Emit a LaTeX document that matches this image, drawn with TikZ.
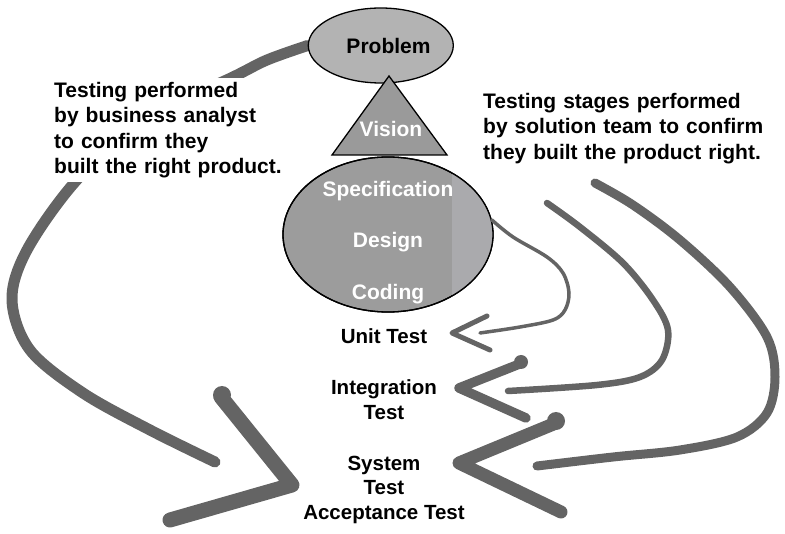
\documentclass[tikz,border=0pt]{standalone}
\usepackage{fontspec}
\setmainfont{Liberation Sans}
\usetikzlibrary{shapes.geometric}
\pgfdeclarelayer{ink}
\pgfsetlayers{ink,main}
\definecolor{markgray}{HTML}{646464}
\definecolor{problemfill}{HTML}{B3B3B3}
\definecolor{visionfill}{HTML}{9A9A9A}
\definecolor{corefill}{HTML}{9C9C9C}
\definecolor{coreshade}{HTML}{AAAAAD}

\begin{document}
\begin{tikzpicture}[x=1pt,y=-1pt,
  pen/.style={draw=markgray, line cap=round, line join=round},
  blob/.style={fill=markgray},
  bigtext/.style={font=\fontsize{21}{25.5}\selectfont\bfseries, inner sep=0pt},
  labeltext/.style={font=\fontsize{20.5}{24.5}\selectfont\bfseries, inner sep=0pt, align=center, anchor=north},
  intext/.style={bigtext, text=white, anchor=base},
  outline/.style={draw=black, line width=1.3pt}]
\useasboundingbox (0,0) rectangle (785,534);

% --- central stack: problem, vision, specification/design/coding
\node[ellipse, outline, fill=problemfill, minimum width=145pt, minimum height=75pt, inner sep=0pt] (problem) at (380.8,45.5) {};
\node[bigtext, anchor=base] (problemtxt) at (388.5,53.5) {Problem};

\node[ellipse, outline, fill=corefill, minimum width=210pt, minimum height=155pt, inner sep=0pt] (core) at (388,234.5) {};
\begin{scope}
  \clip (388,234.5) ellipse [x radius=105, y radius=77.5];
  \fill[coreshade] (452,150) rectangle (500,320);
\end{scope}
\draw[outline] (388,234.5) ellipse [x radius=105, y radius=77.5];
\node[intext] (spec) at (388,196.7) {Specification};
\node[intext] (design) at (388,248) {Design};
\node[intext] (coding) at (388,300) {Coding};

\draw[outline, fill=visionfill] (389,76) -- (447,155) -- (332,155) -- cycle;
\node[intext] (vision) at (391,137) {Vision};

% --- test stage labels
\node[labeltext] (unit) at (384,328) {Unit Test};
\node[labeltext] (integ) at (384,379.8) {Integration\\Test};
\node[labeltext] (system) at (384,455.8) {System\\Test\\Acceptance Test};

% --- explanatory texts
\node[bigtext, fill=white, anchor=north west, text width=232pt, inner xsep=14pt, inner ysep=4pt] (analyst) at (40,78)
  {Testing performed\\by business analyst\\to confirm they\\built the right product.};
\node[bigtext, anchor=north west, text width=300pt] (team) at (483,92.7)
  {Testing stages performed\\by solution team to confirm\\they built the product right.};

% --- free ends of the hand-drawn strokes
\coordinate (leftend) at (215,462);
\coordinate (lefttipA) at (221,397);
\coordinate (lefttip) at (292,485);
\coordinate (lefttipB) at (170,520);

\coordinate (thinend) at (480,333);
\coordinate (unitA) at (487,316);
\coordinate (unittip) at (452,333);
\coordinate (unitB) at (490,350);

\coordinate (midstart) at (547,203);
\coordinate (midend) at (508,391);
\coordinate (integA) at (522,363);
\coordinate (integtip) at (459,388);
\coordinate (integB) at (526,418);

\coordinate (thickstart) at (595,183);
\coordinate (thickend) at (537,466);
\coordinate (sysA) at (556,423);
\coordinate (systip) at (459,463);
\coordinate (sysB) at (561,512);

\begin{pgfonlayer}{ink}
  % business analyst loop, from the problem round to acceptance
  \draw[pen, line width=11pt] plot[smooth, tension=0.55] coordinates
    {(problem.west) (267,60) (233,77) (140,122) (75,182) (27,250) (12,300) (30,350) (83,393) (150,430) (leftend)};
\end{pgfonlayer}
\draw[pen, line width=15pt] (lefttipA) -- (lefttip) -- (lefttipB);
\fill[blob] (222,395) circle (9);

% solution team loops, from the design stages back to each test
\draw[pen, line width=3.5pt] plot[smooth, tension=0.55] coordinates
  {(core.8) (513,237) (547,257) (563,273) (569,293) (565,310) (553,320) (520,327) (thinend)};
\draw[pen, line width=5pt] (unitA) -- (unittip) -- (unitB);

\draw[pen, line width=6.5pt] plot[smooth, tension=0.55] coordinates
  {(midstart) (580,227) (623,263) (653,300) (668,330) (662,360) (640,377) (597,385) (midend)};
\draw[pen, line width=9.5pt] (integA) -- (integtip) -- (integB);
\fill[blob] (521,362) circle (7);

\draw[pen, line width=9pt] plot[smooth, tension=0.55] coordinates
  {(thickstart) (633,205) (680,240) (730,287) (767,337) (775,377) (767,413) (737,437) (680,450) (613,457) (thickend)};
\draw[pen, line width=13pt] (sysA) -- (systip) -- (sysB);
\fill[blob] (556,421) circle (9);
\end{tikzpicture}
\end{document}
